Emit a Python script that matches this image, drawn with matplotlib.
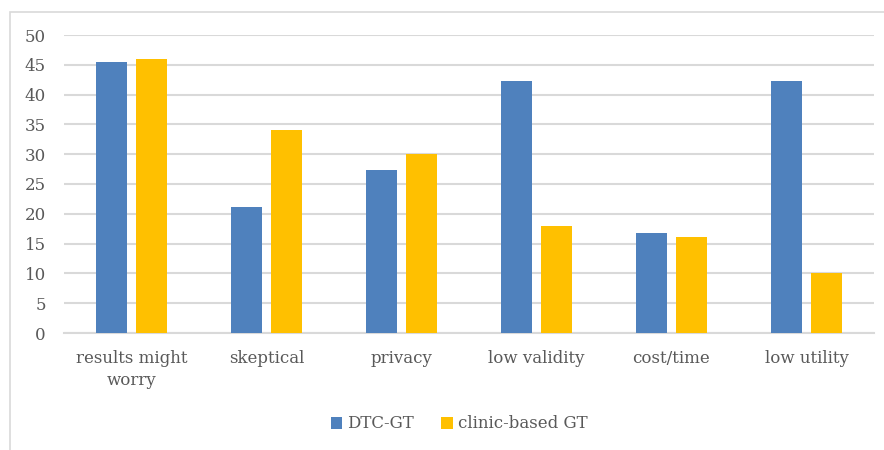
import matplotlib
matplotlib.use("Agg")
import matplotlib.pyplot as plt
import matplotlib.patches as patches
import numpy as np

categories = ["results might\nworry", "skeptical", "privacy", "low validity", "cost/time", "low utility"]
dtc_gt = [45.5, 21.2, 27.3, 42.3, 16.8, 42.2]
clinic_gt = [46.0, 34.0, 30.0, 18.0, 16.1, 10.0]
series_names = ["DTC-GT", "clinic-based GT"]
yticks = [0, 5, 10, 15, 20, 25, 30, 35, 40, 45, 50]

blue = "#4F81BD"
gold = "#FFC000"
txt = "#595959"

plt.rcParams['font.family'] = ['DejaVu Serif']

fig = plt.figure(figsize=(8.84, 4.5), dpi=100)
ax = fig.add_axes([64 / 884, 1 - 333 / 450, 810 / 884, 298 / 450])

# chart area border
fig.patches.append(patches.Rectangle((10 / 884, -0.01), 0.99, 1 - 12 / 450 + 0.01,
                                     transform=fig.transFigure, fill=False,
                                     edgecolor="#D9D9D9", lw=1.2))

x = np.arange(len(categories))
w = 0.23
off = 0.145
ax.bar(x - off, dtc_gt, w, color=blue, label=series_names[0], zorder=3)
ax.bar(x + off, clinic_gt, w, color=gold, label=series_names[1], zorder=3)

ax.set_xlim(-0.5, len(categories) - 0.5)
ax.set_ylim(0, 50)
ax.set_yticks(yticks)
ax.yaxis.grid(True, color="#D9D9D9", lw=1.5, zorder=0)
ax.set_axisbelow(True)
for s in ["top", "right", "left"]:
    ax.spines[s].set_visible(False)
ax.spines["bottom"].set_color("#D9D9D9")
ax.spines["bottom"].set_linewidth(1.5)
ax.tick_params(axis="both", length=0, labelsize=12, colors=txt)
ax.tick_params(axis="y", pad=13)
ax.tick_params(axis="x", pad=12)
ax.set_xticks(x)
ax.set_xticklabels(categories, linespacing=1.4)

fig.legend(loc="center", bbox_to_anchor=(459 / 884, 1 - 424 / 450), ncol=2,
           frameon=False, fontsize=12, labelcolor=txt, handlelength=0.7,
           handleheight=0.7, handletextpad=0.3, columnspacing=1.6)

fig.savefig("out.png", dpi=100)
